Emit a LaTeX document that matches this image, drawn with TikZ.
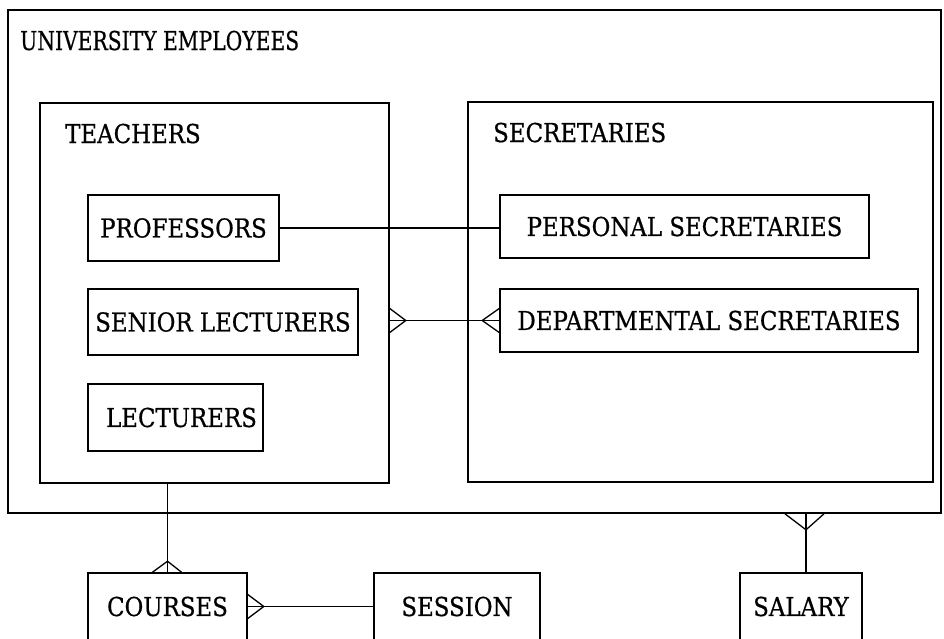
\documentclass[tikz,border=0pt]{standalone}
\usepackage{fontspec}
\setmainfont{DejaVu Serif}[FakeStretch=0.88,FakeBold=0.6]
\newfontfamily\narrowfont{DejaVu Serif}[FakeStretch=0.78,FakeBold=0.6]
\usetikzlibrary{calc}
\begin{document}
\begin{tikzpicture}[x=1pt,y=-1pt,
  every node/.style={font=\fontsize{26}{31}\selectfont},
  group/.style={draw,line width=1.6pt,inner sep=0pt},
  ent/.style={draw,line width=1.6pt,inner sep=0pt,align=center},
  conn/.style={line width=1.3pt},
  title/.style={anchor=base west,inner sep=0pt}]
\useasboundingbox (0,0) rectangle (944,638);
\clip (0,0) rectangle (944,638);

% containers
\node[group,minimum width=933pt,minimum height=503pt] (univ) at (474.5,261.5) {};
\node[group,minimum width=349pt,minimum height=380pt] (teach) at (214.5,293) {};
\node[group,minimum width=465pt,minimum height=380pt] (secr) at (700.5,292) {};

\node[title,font=\narrowfont\fontsize{26}{31}\selectfont] (tuniv) at (20,50) {UNIVERSITY EMPLOYEES};
\node[title] (tteach) at (65,143) {TEACHERS};
\node[title] (tsecr) at (493,142) {SECRETARIES};

% entity boxes
\node[ent,minimum width=191pt,minimum height=66pt] (prof) at (183.5,228) {PROFESSORS};
\node[ent,minimum width=270pt,minimum height=66pt] (senior) at (223,322) {SENIOR LECTURERS};
\node[ent,minimum width=175pt,minimum height=67pt] (lect) at (175.5,417.5) {\hspace*{12pt}LECTURERS};
\node[ent,minimum width=369pt,minimum height=63pt] (pers) at (684.5,226.5) {PERSONAL SECRETARIES};
\node[ent,minimum width=418pt,minimum height=63pt] (dept) at (709,320.5) {DEPARTMENTAL SECRETARIES};
\node[ent,minimum width=159pt,minimum height=67pt] (courses) at (167.5,606.5) {COURSES};
\node[ent,minimum width=166pt,minimum height=67pt] (session) at (457,606.5) {SESSION};
\node[ent,minimum width=122pt,minimum height=67pt] (salary) at (801,606.5) {SALARY};

% relationships
\draw[conn] (prof.east) -- (prof.east -| pers.west);

\coordinate (tl) at (teach.east |- dept.west);
\draw[conn] (tl) -- (dept.west);
\draw[conn] ($(tl)+(0,-12)$) -- ($(tl)+(16,0)$) -- ($(tl)+(0,12)$);
\draw[conn] ($(dept.west)+(0,-12)$) -- ($(dept.west)+(-17,0)$) -- ($(dept.west)+(0,12)$);

\coordinate (tc) at (courses.north |- teach.south);
\draw[conn] (tc) -- (courses.north);
\draw[conn] ($(courses.north)+(-15,0)$) -- ($(courses.north)+(0,-11)$) -- ($(courses.north)+(14,0)$);

\draw[conn] (courses.east) -- (session.west);
\draw[conn] ($(courses.east)+(0,-12)$) -- ($(courses.east)+(16,0)$) -- ($(courses.east)+(0,12)$);

\coordinate (sa) at ($(salary.north)+(5,0)$);
\coordinate (su) at (sa |- univ.south);
\draw[conn] (sa) -- (su);
\draw[conn] ($(su)+(-21,0)$) -- ($(su)+(0,16)$) -- ($(su)+(18,0)$);
\end{tikzpicture}
\end{document}
